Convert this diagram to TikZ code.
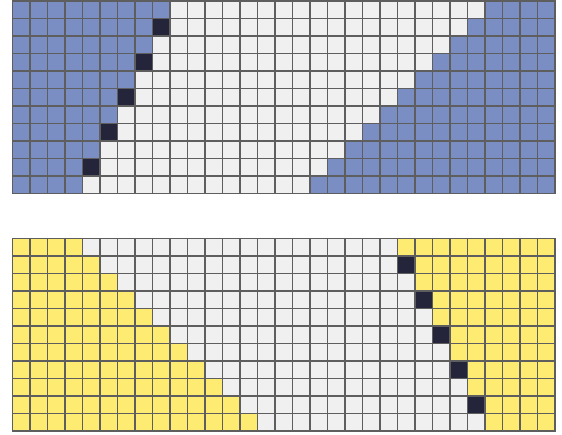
\documentclass[tikz,border=0pt]{standalone}
\definecolor{gridgray}{HTML}{5E5E5E}
\definecolor{topc0}{HTML}{F0F0F0}
\definecolor{topc1}{HTML}{7B8EC4}
\definecolor{topc2}{HTML}{24243A}
\definecolor{botc0}{HTML}{F0F0F0}
\definecolor{botc1}{HTML}{FEEC72}
\definecolor{botc2}{HTML}{24243A}
\begin{document}
\begin{tikzpicture}[x=1pt,y=-1pt,
  cellbox/.style={draw=gridgray, line width=1.9pt}]
\useasboundingbox (0,0) rectangle (562,435);
% top grid
\foreach \r in {0,...,10}{
  \foreach \c in {0,...,30}{
    \pgfmathtruncatemacro\h{int((\r+1)/2)}
    \pgfmathtruncatemacro\t{ifthenelse(\c<=8-\h,1,ifthenelse(\c>=27-\r,1,ifthenelse(and(mod(\r,2)==1,\c==9-\h),2,0)))}
    \filldraw[cellbox, fill=topc\t] (12.5+\c*17.5, 1+\r*17.5) rectangle ++(17.5,17.5);
  }
}
% bottom grid
\foreach \r in {0,...,10}{
  \foreach \c in {0,...,30}{
    \pgfmathtruncatemacro\h{int((\r+1)/2)}
    \pgfmathtruncatemacro\t{ifthenelse(\c<=3+\r,1,ifthenelse(\c>=22+\h,1,ifthenelse(and(mod(\r,2)==1,\c==21+\h),2,0)))}
    \filldraw[cellbox, fill=botc\t] (12.5+\c*17.5, 238.5+\r*17.5) rectangle ++(17.5,17.5);
  }
}
\end{tikzpicture}
\end{document}
